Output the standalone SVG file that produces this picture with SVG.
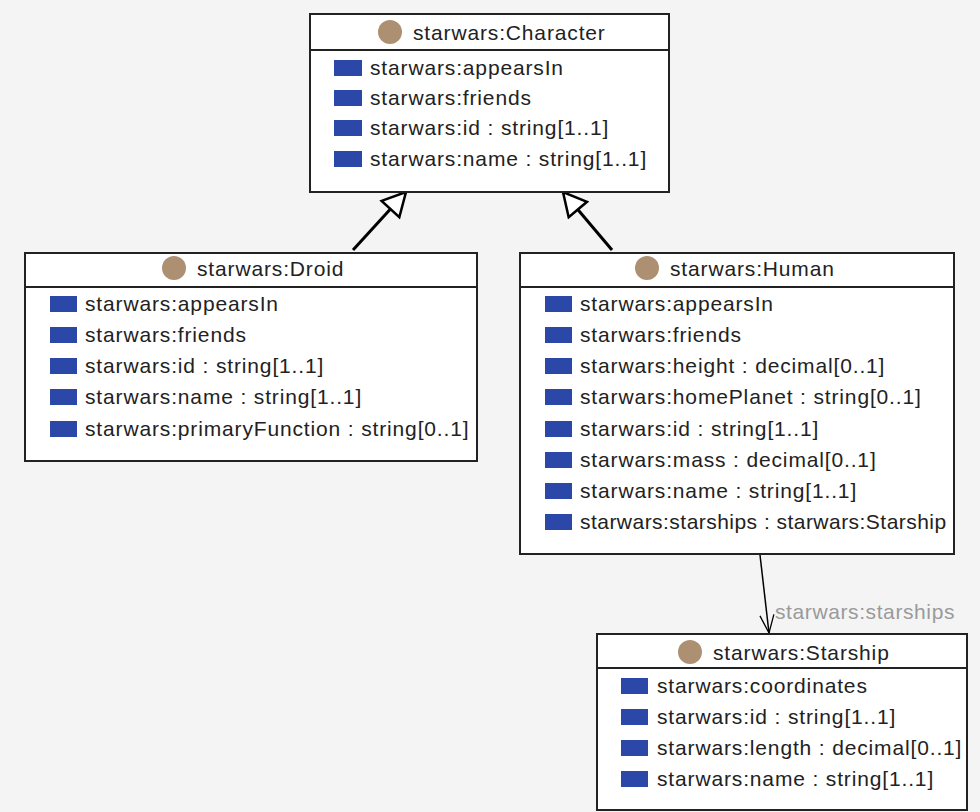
<svg xmlns="http://www.w3.org/2000/svg" width="980" height="812" viewBox="0 0 980 812">
<style>
.box{fill:#fff;stroke:#222;stroke-width:2}
.div{stroke:#222;stroke-width:2}
.t{font-family:"Liberation Sans",Arial,sans-serif;font-size:21px;letter-spacing:0.85px;fill:#222}
.ic{fill:#2b47a8}
.dot{fill:#ad9072}
.lbl{font-family:"Liberation Sans",Arial,sans-serif;font-size:21px;letter-spacing:0.6px;fill:#9a9a9a}
</style>
<defs>
<marker id="gen" viewBox="0 0 28 28" refX="26" refY="14" markerWidth="28" markerHeight="28" markerUnits="userSpaceOnUse" orient="auto">
<path d="M3,2 L26,14 L3,26 Z" fill="#fff" stroke="#000" stroke-width="2.5"/>
</marker>
<marker id="open" viewBox="0 0 20 20" refX="19" refY="10" markerWidth="20" markerHeight="20" markerUnits="userSpaceOnUse" orient="auto">
<path d="M1,3 L19,10 L1,17" fill="none" stroke="#000" stroke-width="1.3"/>
</marker>
</defs>
<rect width="980" height="812" fill="#f4f4f4"/>
<g id="connectors">
<line x1="353" y1="250" x2="406" y2="192" stroke="#000" stroke-width="3" marker-end="url(#gen)"/>
<line x1="612" y1="250" x2="563" y2="192" stroke="#000" stroke-width="3" marker-end="url(#gen)"/>
<line x1="760" y1="555" x2="769" y2="633" stroke="#000" stroke-width="1.5" marker-end="url(#open)"/>
<text class="lbl" x="775" y="619">starwars:starships</text>
</g>
<g id="Character">
<rect class="box" x="310" y="14" width="359" height="178"/>
<line class="div" x1="310" y1="50" x2="669" y2="50"/>
<circle class="dot" cx="390" cy="32" r="12"/>
<text class="t" x="413" y="40">starwars:Character</text>
<rect class="ic" x="334" y="60" width="28" height="16"/><text class="t" x="370" y="75">starwars:appearsIn</text>
<rect class="ic" x="334" y="90" width="28" height="16"/><text class="t" x="370" y="105">starwars:friends</text>
<rect class="ic" x="334" y="120" width="28" height="16"/><text class="t" x="370" y="135">starwars:id : string[1..1]</text>
<rect class="ic" x="334" y="151" width="28" height="16"/><text class="t" x="370" y="166">starwars:name : string[1..1]</text>
</g>
<g id="Droid">
<rect class="box" x="25" y="253" width="452" height="208"/>
<line class="div" x1="25" y1="287" x2="477" y2="287"/>
<circle class="dot" cx="174" cy="268" r="12"/>
<text class="t" x="197" y="276">starwars:Droid</text>
<rect class="ic" x="50" y="296" width="27" height="16"/><text class="t" x="85" y="311">starwars:appearsIn</text>
<rect class="ic" x="50" y="327" width="27" height="16"/><text class="t" x="85" y="342">starwars:friends</text>
<rect class="ic" x="50" y="358" width="27" height="16"/><text class="t" x="85" y="373">starwars:id : string[1..1]</text>
<rect class="ic" x="50" y="389" width="27" height="16"/><text class="t" x="85" y="404">starwars:name : string[1..1]</text>
<rect class="ic" x="50" y="421" width="27" height="16"/><text class="t" x="85" y="436">starwars:primaryFunction : string[0..1]</text>
</g>
<g id="Human">
<rect class="box" x="520" y="253" width="434" height="301"/>
<line class="div" x1="520" y1="287" x2="954" y2="287"/>
<circle class="dot" cx="647" cy="268" r="12"/>
<text class="t" x="670" y="276">starwars:Human</text>
<rect class="ic" x="545" y="296" width="27" height="16"/><text class="t" x="580" y="311">starwars:appearsIn</text>
<rect class="ic" x="545" y="327" width="27" height="16"/><text class="t" x="580" y="342">starwars:friends</text>
<rect class="ic" x="545" y="358" width="27" height="16"/><text class="t" x="580" y="373">starwars:height : decimal[0..1]</text>
<rect class="ic" x="545" y="389" width="27" height="16"/><text class="t" x="580" y="404">starwars:homePlanet : string[0..1]</text>
<rect class="ic" x="545" y="421" width="27" height="16"/><text class="t" x="580" y="436">starwars:id : string[1..1]</text>
<rect class="ic" x="545" y="452" width="27" height="16"/><text class="t" x="580" y="467">starwars:mass : decimal[0..1]</text>
<rect class="ic" x="545" y="483" width="27" height="16"/><text class="t" x="580" y="498">starwars:name : string[1..1]</text>
<rect class="ic" x="545" y="514" width="27" height="16"/><text class="t" x="580" y="529" textLength="367" lengthAdjust="spacing">starwars:starships : starwars:Starship</text>
</g>
<g id="Starship">
<rect class="box" x="597" y="634" width="370" height="176"/>
<line class="div" x1="597" y1="668" x2="967" y2="668"/>
<circle class="dot" cx="690" cy="652" r="12"/>
<text class="t" x="713" y="660">starwars:Starship</text>
<rect class="ic" x="621" y="678" width="27" height="16"/><text class="t" x="657" y="693">starwars:coordinates</text>
<rect class="ic" x="621" y="709" width="27" height="16"/><text class="t" x="657" y="724">starwars:id : string[1..1]</text>
<rect class="ic" x="621" y="740" width="27" height="16"/><text class="t" x="657" y="755">starwars:length : decimal[0..1]</text>
<rect class="ic" x="621" y="771" width="27" height="16"/><text class="t" x="657" y="786">starwars:name : string[1..1]</text>
</g>
</svg>
